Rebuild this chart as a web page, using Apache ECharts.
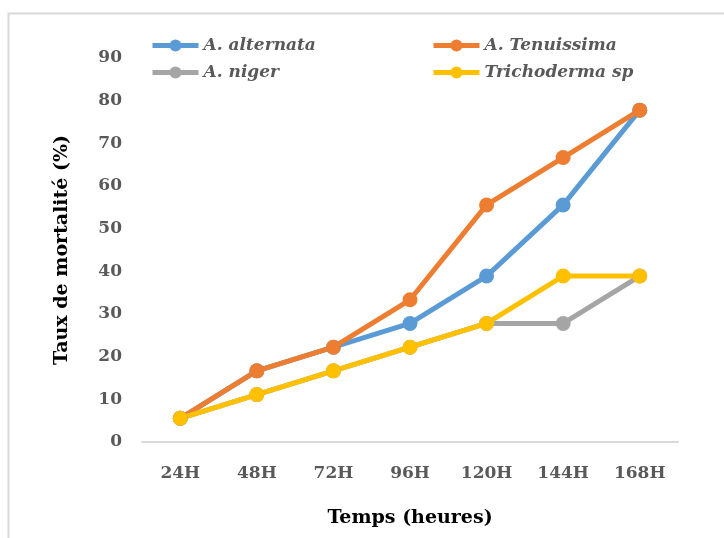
<!DOCTYPE html>
<html>
<head>
<meta charset="utf-8">
<script src="https://cdn.jsdelivr.net/npm/echarts@6/dist/echarts.min.js"></script>
<style>
  html, body { margin: 0; padding: 0; background: #fff; }
  #chart { width: 724px; height: 538px; }
</style>
</head>
<body>
<div id="chart"></div>
<script>
// Mortality rate (%) over time for each treatment
const categories = ['24H', '48H', '72H', '96H', '120H', '144H', '168H'];
const alternata = [5.56, 16.67, 22.22, 27.78, 38.89, 55.56, 77.78];
const tenuissima = [5.56, 16.67, 22.22, 33.33, 55.56, 66.67, 77.78];
const niger = [5.56, 11.11, 16.67, 22.22, 27.78, 27.78, 38.89];
const trichoderma = [5.56, 11.11, 16.67, 22.22, 27.78, 38.89, 38.89];
const yTicks = { min: 0, max: 90, interval: 10 };

const font = '"DejaVu Serif", "Liberation Serif", serif';
const chart = echarts.init(document.getElementById('chart'), null, { renderer: 'canvas' });

function line(name, data, color) {
  return {
    name: name,
    type: 'line',
    data: data,
    symbol: 'circle',
    symbolSize: 15,
    itemStyle: { color: color },
    lineStyle: { color: color, width: 5 },
    emphasis: { disabled: true },
    animation: false
  };
}

const legendText = { fontFamily: font, fontSize: 17, fontWeight: 'bold', fontStyle: 'italic', color: '#595959' };
const legendBase = {
  top: 37, orient: 'vertical', itemGap: 10, padding: 0,
  itemWidth: 46, itemHeight: 15,
  lineStyle: { width: 5 },
  textStyle: legendText
};

chart.setOption({
  backgroundColor: '#fff',
  graphic: [{
    type: 'polyline',
    shape: { points: [[8.5, 538], [8.5, 13.5], [724, 13.5]] },
    style: { stroke: '#d9d9d9', lineWidth: 2, fill: null },
    silent: true
  }],
  legend: [
    Object.assign({ left: 150, data: ['A. alternata', 'A. niger'] }, legendBase),
    Object.assign({ left: 431, data: ['A. Tenuissima', 'Trichoderma sp'] }, legendBase)
  ],
  grid: { left: 142, right: 46, top: 58, bottom: 96 },
  xAxis: {
    type: 'category',
    data: categories,
    boundaryGap: true,
    axisLine: { lineStyle: { color: '#d9d9d9', width: 2 } },
    axisTick: { show: false },
    axisLabel: { fontFamily: font, fontSize: 17, fontWeight: 'bold', color: '#595959', margin: 23 },
    name: 'Temps (heures)',
    nameLocation: 'middle',
    nameGap: 67,
    nameTextStyle: { fontFamily: font, fontSize: 19, fontWeight: 'bold', color: '#000' }
  },
  yAxis: {
    type: 'value',
    min: yTicks.min, max: yTicks.max, interval: yTicks.interval,
    splitLine: { show: false },
    axisLine: { show: false },
    axisTick: { show: false },
    axisLabel: { fontFamily: font, fontSize: 17, fontWeight: 'bold', color: '#595959', margin: 20 },
    name: 'Taux de mortalité (%)',
    nameLocation: 'middle',
    nameGap: 70,
    nameTextStyle: { fontFamily: font, fontSize: 19, fontWeight: 'bold', color: '#000' }
  },
  series: [
    line('A. alternata', alternata, '#5B9BD5'),
    line('A. Tenuissima', tenuissima, '#ED7D31'),
    line('A. niger', niger, '#A5A5A5'),
    line('Trichoderma sp', trichoderma, '#FFC000')
  ]
});
</script>
</body>
</html>
